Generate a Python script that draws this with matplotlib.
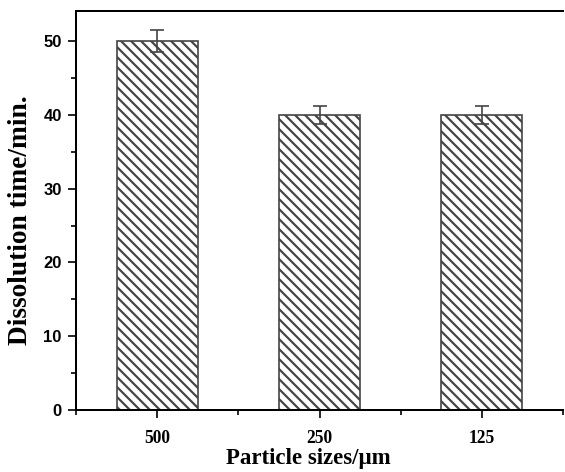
import numpy as np
import matplotlib.pyplot as plt
from matplotlib.ticker import MultipleLocator, FixedLocator

# data
sizes = ["500", "250", "125"]
times = [50, 40, 40]
errs = [1.5, 1.2, 1.2]

plt.rcParams['hatch.linewidth'] = 1.3
plt.rcParams['hatch.color'] = 'black'

fig = plt.figure(figsize=(565/120, 472/120), dpi=120)
ax = fig.add_axes([76/565, 1-410/472, (563-76)/565, (410-11)/472])

x = np.arange(len(sizes))
ax.bar(x, times, width=0.5, color='white', edgecolor='#444444', linewidth=1.0,
       hatch='\\\\\\\\', zorder=2)
ax.errorbar(x, times, yerr=errs, fmt='none', ecolor='#444444', elinewidth=1.0,
            capsize=4, capthick=1.0, zorder=3)

ax.set_xlim(-0.5, 2.5)
ax.set_ylim(0, 54.1)
ax.set_xticks(x)
ax.set_xticklabels(sizes)
ax.xaxis.set_minor_locator(FixedLocator([-0.5, 0.5, 1.5, 2.5]))
ax.yaxis.set_major_locator(MultipleLocator(10))
ax.yaxis.set_minor_locator(MultipleLocator(5))

for s in ['left', 'bottom', 'top']:
    ax.spines[s].set_linewidth(1.2)
ax.spines['right'].set_visible(False)

ax.tick_params(axis='both', which='major', direction='out', length=5, width=1.0)
ax.tick_params(axis='both', which='minor', direction='out', length=3, width=1.0)
ax.tick_params(axis='x', which='major', pad=7)
ax.tick_params(top=False, right=False)

for lab in ax.get_yticklabels():
    lab.set_fontfamily('Liberation Sans')
    lab.set_fontweight('bold')
    lab.set_fontsize(10)
for lab in ax.get_xticklabels():
    lab.set_fontfamily('Liberation Serif')
    lab.set_fontweight('bold')
    lab.set_fontsize(10.5)

ax.set_xlabel("Particle sizes/\u03bcm", fontfamily='Liberation Serif',
              fontweight='bold', fontsize=13.7)
ax.xaxis.set_label_coords(0.477, -0.094)
ax.set_ylabel("Dissolution time/min.", fontfamily='Liberation Serif',
              fontweight='bold', fontsize=16.4)
ax.yaxis.set_label_coords(-0.088, 0.476)

fig.savefig("out.png", dpi=120)
